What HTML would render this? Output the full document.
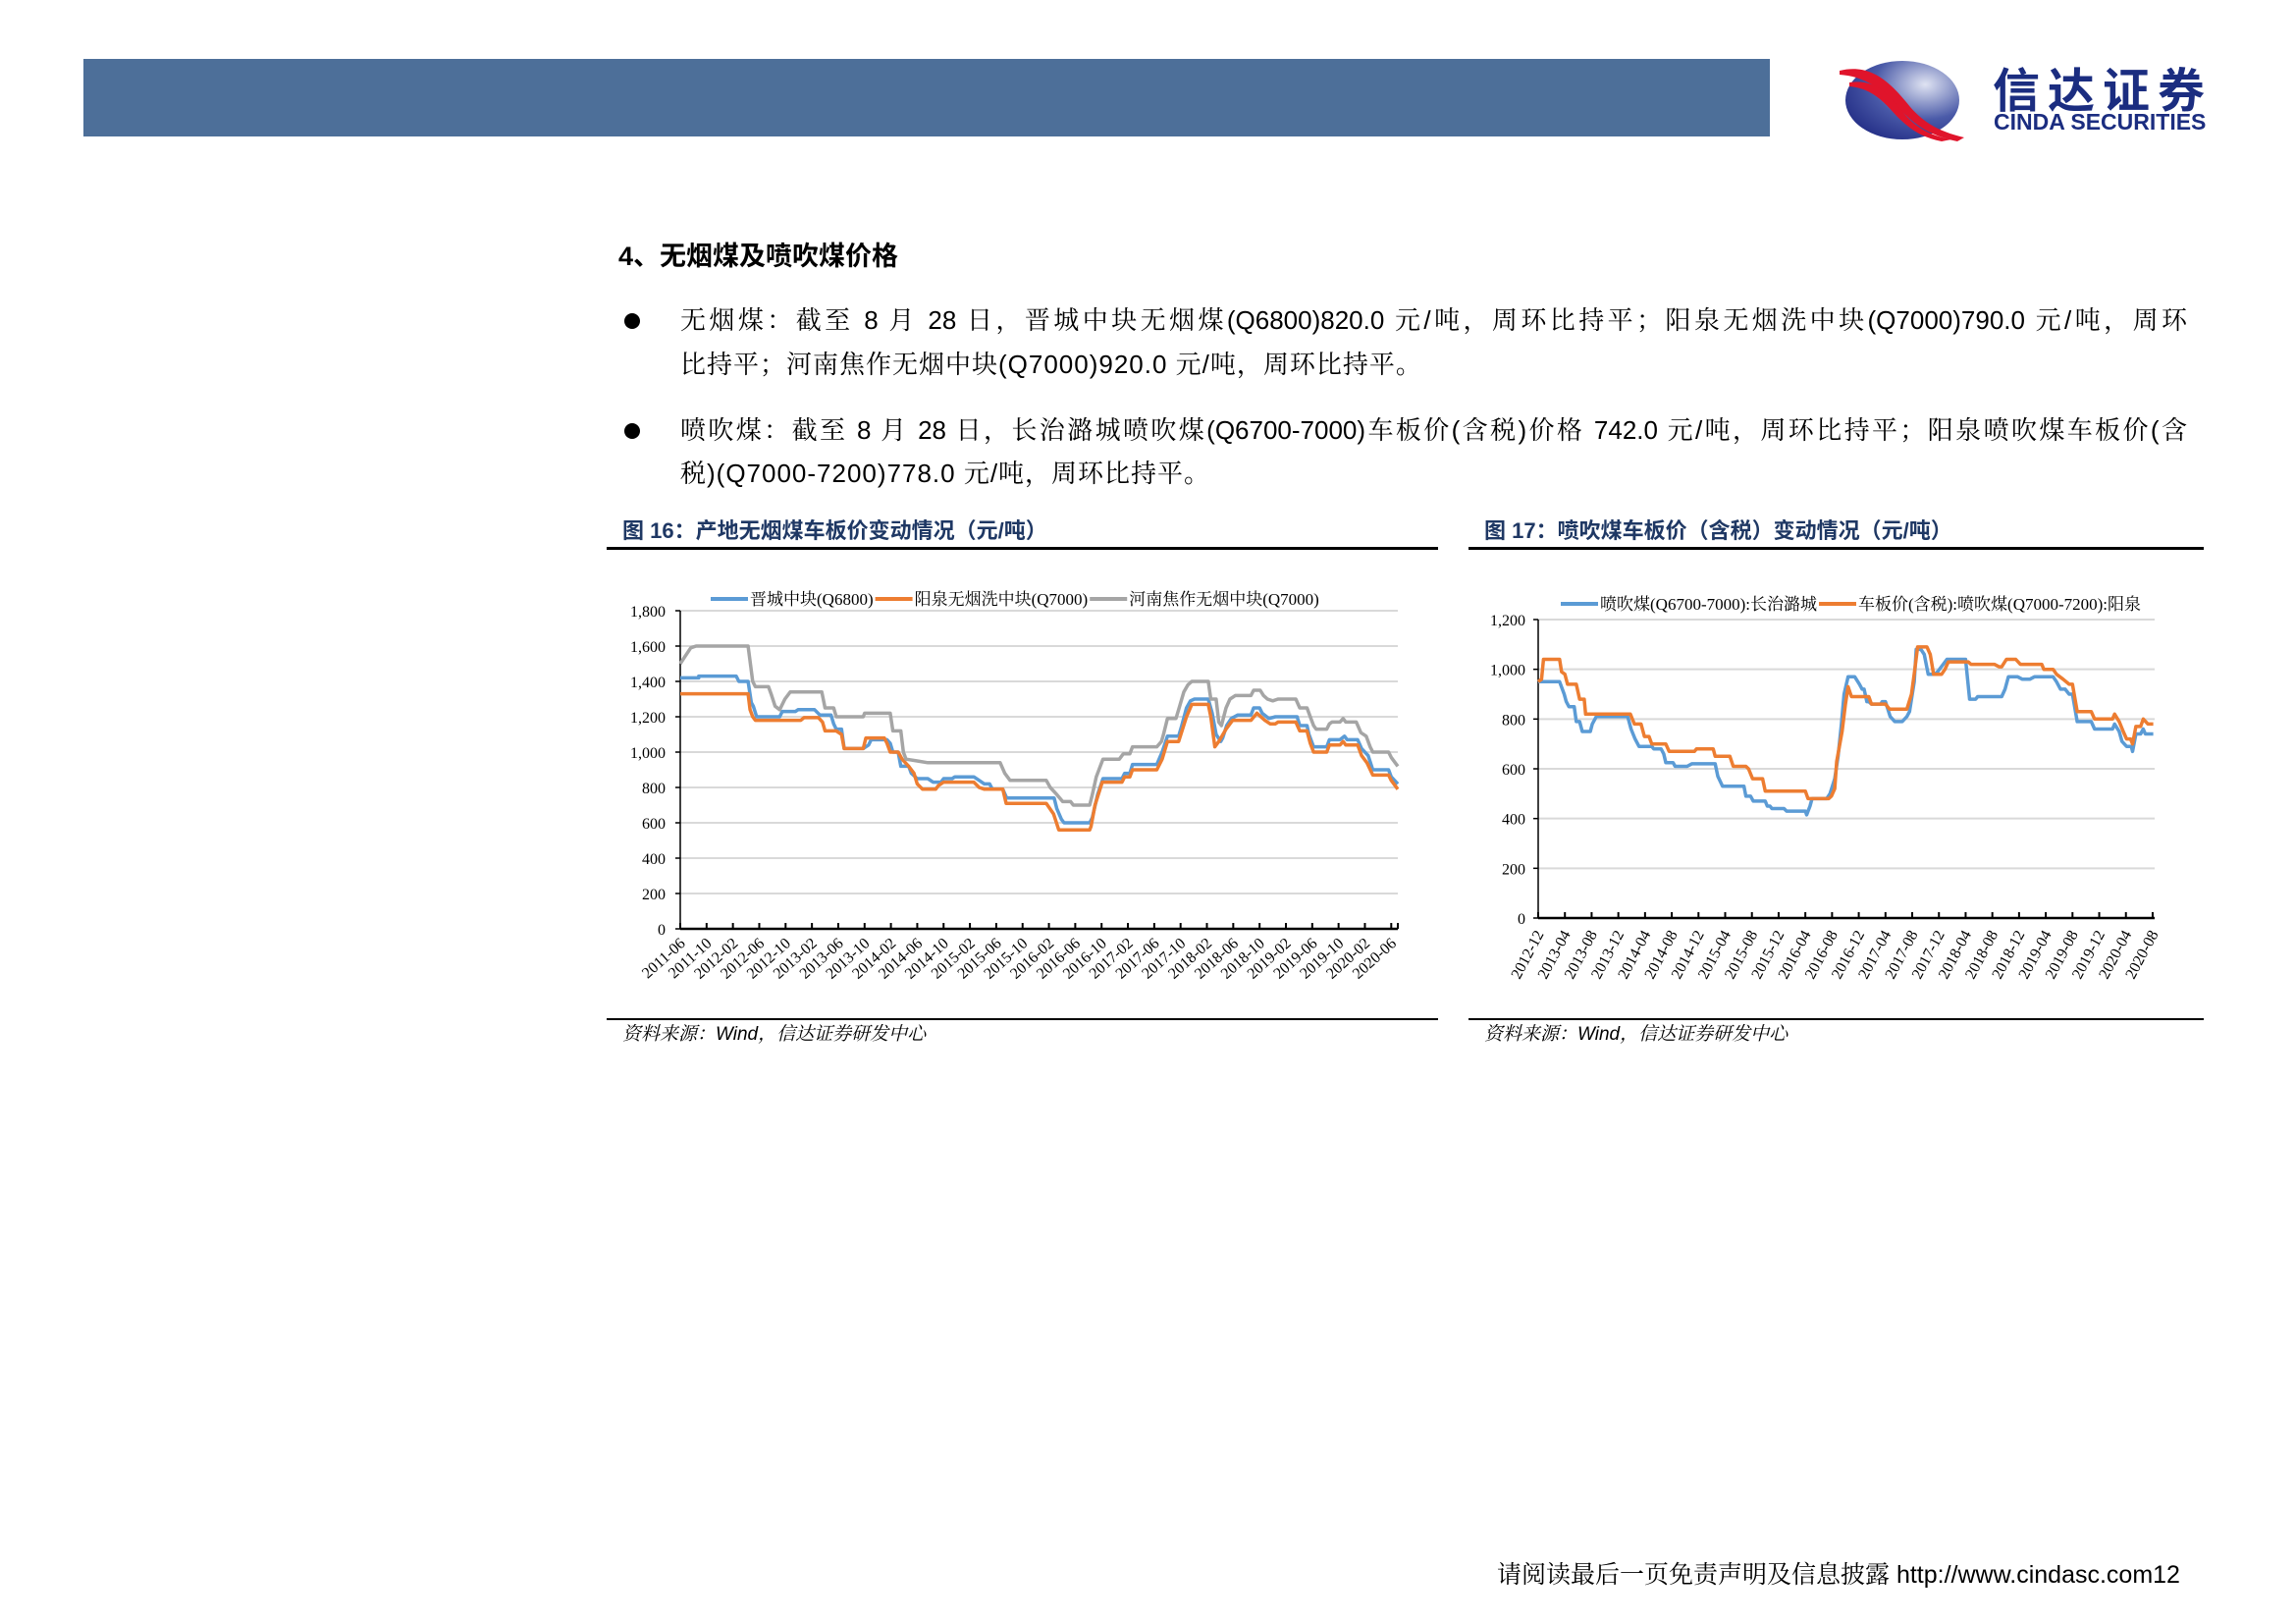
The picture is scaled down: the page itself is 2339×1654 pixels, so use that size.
<!DOCTYPE html>
<html><head><meta charset="utf-8">
<style>
html,body{margin:0;padding:0;background:#fff;}
body{width:2339px;height:1654px;position:relative;overflow:hidden;font-family:"Liberation Sans","Noto Serif CJK SC",serif;color:#000;}
.abs{position:absolute;white-space:nowrap;}
.line{position:absolute;left:693px;width:1535px;font-size:26px;line-height:32px;white-space:nowrap;}
.just{text-align:justify;text-align-last:justify;}
.bullet{position:absolute;left:636px;width:16px;height:16px;border-radius:50%;background:#000;}
.figt{position:absolute;font-size:22px;font-weight:bold;color:#1f3864;font-family:"Liberation Sans","Noto Sans CJK SC",sans-serif;}
.src{position:absolute;font-size:19px;font-style:italic;color:#000;}
</style></head>
<body>
<div style="position:absolute;left:85px;top:60px;width:1718px;height:79px;background:#4d6f99;"></div>
<svg style="position:absolute;left:1866px;top:54px" width="140" height="92" viewBox="0 0 140 92">
  <defs><radialGradient id="lg" cx="0.7" cy="0.3" r="0.9"><stop offset="0" stop-color="#dfe3f2"/><stop offset="0.5" stop-color="#4a5aa8"/><stop offset="1" stop-color="#1a237e"/></radialGradient></defs>
  <ellipse cx="72" cy="48" rx="58" ry="40" fill="url(#lg)"/>
  <path d="M8 18 C40 10,60 30,80 55 C95 72,110 80,135 86 L128 90 C100 84,86 74,70 58 C52 38,36 24,8 22Z" fill="#e0142b"/>
  <path d="M18 30 C45 26,58 42,74 62 C86 76,100 84,122 88 L112 90 C92 86,80 78,66 64 C52 48,40 36,18 34Z" fill="#e0142b"/>
</svg>
<div class="abs" style="left:2030px;top:62px;font-size:48px;font-weight:bold;color:#1b2d80;font-family:'Noto Sans CJK SC',sans-serif;line-height:52px;letter-spacing:8px;">信达证券</div>
<div class="abs" style="left:2031px;top:112px;font-size:23px;font-weight:bold;color:#1b2d80;line-height:24px;">CINDA SECURITIES</div>

<div class="abs" style="left:630px;top:239px;font-size:27px;font-weight:bold;font-family:'Liberation Sans','Noto Sans CJK SC',sans-serif;">4、无烟煤及喷吹煤价格</div>

<div class="bullet" style="top:319px"></div>
<div class="line just" style="top:310px">无烟煤：截至 8 月 28 日，晋城中块无烟煤(Q6800)820.0 元/吨，周环比持平；阳泉无烟洗中块(Q7000)790.0 元/吨，周环</div>
<div class="line" style="top:355px;letter-spacing:1px">比持平；河南焦作无烟中块(Q7000)920.0 元/吨，周环比持平。</div>
<div class="bullet" style="top:431px"></div>
<div class="line just" style="top:422px">喷吹煤：截至 8 月 28 日，长治潞城喷吹煤(Q6700-7000)车板价(含税)价格 742.0 元/吨，周环比持平；阳泉喷吹煤车板价(含</div>
<div class="line" style="top:466px;letter-spacing:1px">税)(Q7000-7200)778.0 元/吨，周环比持平。</div>

<div class="figt" style="left:634px;top:523px">图 16：产地无烟煤车板价变动情况（元/吨）</div>
<div class="figt" style="left:1512px;top:523px">图 17：喷吹煤车板价（含税）变动情况（元/吨）</div>
<div style="position:absolute;left:618px;top:557px;width:847px;height:3px;background:#000"></div>
<div style="position:absolute;left:1496px;top:557px;width:749px;height:3px;background:#000"></div>
<div style="position:absolute;left:618px;top:1037px;width:847px;height:2px;background:#000"></div>
<div style="position:absolute;left:1496px;top:1037px;width:749px;height:2px;background:#000"></div>
<div class="src" style="left:634px;top:1038px">资料来源：Wind，信达证券研发中心</div>
<div class="src" style="left:1512px;top:1038px">资料来源：Wind，信达证券研发中心</div>

<div class="abs" style="left:1525px;top:1584px;font-size:25px;">请阅读最后一页免责声明及信息披露 http://www.cindasc.com12</div>

<svg id="chart1" style="position:absolute;left:0;top:0" width="2339" height="1654"></svg>

<script>
// ---------- Chart 1 data (months since 2011-06) ----------
const c1Ticks = [0,200,400,600,800,1000,1200,1400,1600,1800];
const c1TickLabels = ["0","200","400","600","800","1,000","1,200","1,400","1,600","1,800"];
const c1XLabels = ["2011-06","2011-10","2012-02","2012-06","2012-10","2013-02","2013-06","2013-10","2014-02","2014-06","2014-10","2015-02","2015-06","2015-10","2016-02","2016-06","2016-10","2017-02","2017-06","2017-10","2018-02","2018-06","2018-10","2019-02","2019-06","2019-10","2020-02","2020-06"];
const c1Names = ["晋城中块(Q6800)","阳泉无烟洗中块(Q7000)","河南焦作无烟中块(Q7000)"];
const c1BlueT = [0,2.8,2.8,8.5,8.9,10.3,10.8,11.1,11.6,15.1,15.5,17.5,17.9,20.4,21.2,22.9,23.3,23.7,24.5,24.9,27.8,28.6,29,31.4,31.9,32.3,33.1,33.5,34.7,35.1,36,37.6,38.4,39.6,40,41.3,41.7,44.6,45.4,46.2,47,47.4,49,49.6,56.8,57.2,57.9,58.3,62.2,62.6,63.4,64.2,67.1,67.5,68.3,68.7,72.4,73.2,74,75.7,76.1,76.9,77.5,78.1,80.2,80.8,81.4,82.1,82.4,83,83.7,84.7,86.7,87.1,88,88.4,89.4,90.4,93.7,94.1,95.2,95.5,96.2,98.2,98.6,100.2,100.9,101.3,102.9,103.5,104.5,105.2,107.6,108,109];
const c1BlueV = [1420,1420,1430,1430,1400,1400,1280,1260,1200,1200,1230,1230,1240,1240,1210,1210,1160,1130,1130,1020,1020,1040,1070,1070,1050,1000,1000,920,920,880,850,850,830,830,850,850,860,860,840,820,820,790,790,740,740,680,620,600,600,630,760,850,850,880,880,930,930,1000,1090,1090,1140,1250,1290,1300,1300,1220,1100,1060,1080,1150,1190,1210,1210,1250,1250,1220,1190,1200,1200,1150,1150,1100,1030,1030,1070,1070,1090,1070,1070,1020,980,900,900,860,820];
const c1OrangeT = [0,10.3,10.6,11,11.4,18.3,18.8,21,21.6,22,23.7,24.5,24.9,27.8,28.2,31,31.4,31.9,33.1,33.7,34.7,35.5,36,36.8,38.8,39.2,40,44.6,45.4,46.2,49,49.5,55.6,56.7,57.5,62.2,62.4,63,64.1,67.1,67.5,68.3,68.7,72.4,73.2,74,75.7,76.9,77.7,80.2,80.6,81.2,81.8,82.9,83.9,86.7,87.6,88.8,89.6,90.4,90.8,93.5,94.1,95.2,95.7,96.2,98.2,98.6,100.2,100.7,101.1,102.9,103.5,104.3,105.2,107.6,108,109];
const c1OrangeV = [1330,1330,1240,1200,1180,1180,1195,1195,1170,1120,1120,1100,1020,1020,1080,1080,1050,1000,1000,960,920,880,820,790,790,810,830,830,800,790,790,710,710,650,560,560,580,700,830,830,860,860,900,900,960,1060,1060,1200,1270,1270,1200,1030,1060,1130,1180,1180,1220,1180,1160,1160,1170,1170,1120,1120,1050,1000,1000,1040,1040,1060,1040,1040,980,940,870,870,840,790];
const c1GrayT = [0,0.7,1.6,2.4,10.3,11,11.4,13.4,13.8,14.4,15.1,15.9,16.7,21.5,22,23.3,23.7,27.8,28,31.9,32.3,33.5,33.9,34.3,36,37.6,48.6,49.3,50.1,55.6,56.2,57.2,58.1,59.3,59.7,62.2,62.6,63.2,63.8,64.2,66.7,67.3,68.3,68.7,72.4,73.1,73.4,74,75.3,75.7,76.5,77.1,77.7,80.2,80.6,81.4,81.8,82.2,82.9,83.5,84.3,86.7,87.1,88.1,88.6,89.2,90,90.8,93.5,94.1,95.2,95.7,96.2,96.6,98.2,98.6,99,100.2,100.7,101.1,102.7,103.4,104.2,104.8,105.2,107.6,108,109];
const c1GrayV = [1500,1540,1590,1600,1600,1400,1370,1370,1330,1260,1240,1300,1340,1340,1250,1250,1200,1200,1220,1220,1120,1120,1000,960,950,940,940,880,840,840,800,760,720,720,700,700,760,860,920,960,960,990,990,1030,1030,1060,1100,1190,1190,1240,1340,1380,1400,1400,1300,1300,1170,1150,1250,1300,1320,1320,1350,1350,1320,1300,1290,1300,1300,1250,1250,1200,1150,1130,1130,1160,1170,1170,1190,1170,1170,1110,1090,1030,1000,1000,970,920];

// ---------- Chart 2 data (months since 2012-12) ----------
const c2Ticks = [0,200,400,600,800,1000,1200];
const c2TickLabels = ["0","200","400","600","800","1,000","1,200"];
const c2XLabels = ["2012-12","2013-04","2013-08","2013-12","2014-04","2014-08","2014-12","2015-04","2015-08","2015-12","2016-04","2016-08","2016-12","2017-04","2017-08","2017-12","2018-04","2018-08","2018-12","2019-04","2019-08","2019-12","2020-04","2020-08"];
const c2Names = ["喷吹煤(Q6700-7000):长治潞城","车板价(含税):喷吹煤(Q7000-7200):阳泉"];
const c2BlueT = [0,3.2,3.9,4.2,4.6,5.4,5.7,6.2,6.6,7.8,8.1,8.7,13.4,13.9,14.5,15.1,17,17.3,18.4,18.8,19.1,20.2,20.5,22.3,23,26.5,26.9,27.6,30.8,31.1,31.8,32.2,34,34.3,34.7,35,36.8,37.2,40,40.2,40.7,41,43.2,43.7,44.4,44.9,45.4,45.8,46.4,47.4,48.1,48.5,48.8,49.2,49.5,49.9,51.3,51.5,52,52.7,53.4,54.5,55.2,55.6,56.3,56.6,57.3,57.8,58.4,59.4,59.8,61.2,64,64.6,65.5,65.8,69.4,69.9,70.4,71.8,72.5,73.6,74.3,77.1,77.6,78.2,78.9,79.5,80,80.7,82.8,83.3,86,86.3,87,87.4,88.1,88.8,89,89.5,90.2,90.6,90.9,92.1];
const c2BlueV = [950,950,900,870,850,850,790,790,750,750,780,810,810,760,720,690,690,680,680,660,625,625,610,610,620,620,570,530,530,490,490,470,470,450,450,440,440,430,430,415,450,480,480,500,560,650,780,900,970,970,940,920,920,870,870,860,860,870,870,810,790,790,810,830,950,1080,1080,1060,980,980,990,1040,1040,880,880,890,890,920,970,970,960,960,970,970,950,920,920,900,900,790,790,760,760,780,750,710,690,690,670,740,740,760,740,740];
const c2OrangeT = [0,0.5,0.8,3.2,3.5,4,4.4,5.7,6.2,6.9,7.1,13.8,14.4,15.4,15.9,16.6,17,19.1,19.6,23.4,23.7,26.2,26.5,28.7,29.2,31.1,31.5,32.1,33.6,34,40,40.4,43.5,43.9,44.4,44.7,45.5,46,46.4,46.9,49.5,49.9,52,52.6,55.2,55.9,56.4,56.8,58.2,58.7,59.2,60.4,60.9,61.4,64.4,64.8,68.3,69,69.4,70.1,71.5,72.2,75.4,75.7,77.1,77.6,78.6,79.5,80,80.7,82.8,83.3,86,86.3,87,87.6,88.1,88.7,89,89.5,90.2,90.6,91.3,92.1];
const c2OrangeV = [950,960,1040,1040,990,980,940,940,880,880,820,820,780,780,730,730,700,700,670,670,680,680,650,650,610,610,600,560,560,510,510,480,480,490,520,630,750,860,930,890,890,860,860,840,840,900,1000,1090,1090,1060,980,980,1000,1030,1030,1020,1020,1010,1010,1040,1040,1020,1020,1000,1000,980,960,940,940,830,830,800,800,820,790,750,720,720,700,770,770,800,780,780];

const NS = "http://www.w3.org/2000/svg";
const svg = document.getElementById("chart1");
function mk(tag, attrs, parent){
  const e = document.createElementNS(NS, tag);
  for (const k in attrs) e.setAttribute(k, attrs[k]);
  (parent||svg).appendChild(e);
  return e;
}
const SERIF = "'Liberation Serif','Noto Serif CJK SC',serif";

function drawChart(cfg){
  const g = mk("g", {});
  
  
  const xS = t => cfg.x0 + t / cfg.tMax * (cfg.x1 - cfg.x0);
  const yS = v => cfg.yBot - v / cfg.vMax * (cfg.yBot - cfg.yTop);
  cfg.ticks.forEach((v, i) => {
    if (v > 0) {
      const gl = mk("line", {x1: cfg.x0, x2: cfg.x1, y1: yS(v), y2: yS(v), stroke: "#d9d9d9", "stroke-width": 2}, g);
      
      
    }
    const tl = mk("text", {x: cfg.labRight, y: yS(v) + 6, "text-anchor": "end", "font-size": 16, "font-family": SERIF, fill: "#000"}, g);
    tl.textContent = cfg.tickLabels[i];
    
    
  });
  const ya = mk("line", {x1: cfg.x0, x2: cfg.x0, y1: cfg.yTop, y2: cfg.yBot, stroke: "#000", "stroke-width": 1.5}, g);
  
  
  cfg.ticks.forEach(v => { mk("line", {x1: cfg.x0 - 5, x2: cfg.x0, y1: yS(v), y2: yS(v), stroke: "#000", "stroke-width": 1.5}, g); });
  const xa = mk("line", {x1: cfg.x0, x2: cfg.x1, y1: cfg.yBot, y2: cfg.yBot, stroke: "#000", "stroke-width": 2.5}, g);
  
  
  cfg.xLabels.forEach((lab, i) => {
    const x = xS(i * cfg.xStep);
    mk("line", {x1: x, x2: x, y1: cfg.yBot - 6, y2: cfg.yBot, stroke: "#000", "stroke-width": 2}, g);
    const ax = x + 6, ay = cfg.yBot + 16;
    const xl = mk("text", {x: ax, y: ay, "text-anchor": "end", "font-size": 16, "font-family": SERIF, fill: "#000", transform: `rotate(${cfg.rot} ${ax} ${ay})`}, g);
    xl.textContent = lab;
    
    
  });
  if (cfg.endTick) mk("line", {x1: cfg.x1, x2: cfg.x1, y1: cfg.yBot - 6, y2: cfg.yBot, stroke: "#000", "stroke-width": 2}, g);
  cfg.series.forEach(s => {
    const pts = s.t.map((t, i) => xS(t).toFixed(1) + "," + yS(s.v[i]).toFixed(1)).join(" ");
    const pl = mk("polyline", {points: pts, fill: "none", stroke: s.color, "stroke-width": 3.5, "stroke-linejoin": "round"}, g);
    
    
  });
  let lx = cfg.legX;
  cfg.series.forEach(s => {
    const ll = mk("line", {x1: lx, x2: lx + 38, y1: cfg.legY, y2: cfg.legY, stroke: s.color, "stroke-width": 4}, g);
    
    
    const lt = mk("text", {x: lx + 40, y: cfg.legY + 6, "font-size": cfg.legFont, "font-family": SERIF, fill: "#000"}, g);
    lt.textContent = s.label;
    
    
    lx += 40 + lt.getComputedTextLength() + 2;
  });
}

drawChart({
  name: "chart-anthracite-plot", x0: 693, x1: 1424, yTop: 622, yBot: 946, tMax: 109, vMax: 1800,
  ticks: c1Ticks, tickLabels: c1TickLabels, xLabels: c1XLabels, xStep: 4, rot: -42, endTick: true,
  labRight: 678, legX: 724, legY: 610, legFont: 17,
  series: [
    {t: c1BlueT, v: c1BlueV, color: "#5b9bd5", label: c1Names[0], dname: "series-jincheng"},
    {t: c1OrangeT, v: c1OrangeV, color: "#ed7d31", label: c1Names[1], dname: "series-yangquan"},
    {t: c1GrayT, v: c1GrayV, color: "#a5a5a5", label: c1Names[2], dname: "series-henan-jiaozuo"}
  ]
});
drawChart({
  name: "chart-pci-plot", x0: 1567, x1: 2195, yTop: 631, yBot: 935, tMax: 92.3, vMax: 1200,
  ticks: c2Ticks, tickLabels: c2TickLabels, xLabels: c2XLabels, xStep: 4, rot: -62, endTick: false,
  labRight: 1554, legX: 1590, legY: 615, legFont: 17,
  series: [
    {t: c2BlueT, v: c2BlueV, color: "#5b9bd5", label: c2Names[0], dname: "series-changzhi-lucheng"},
    {t: c2OrangeT, v: c2OrangeV, color: "#ed7d31", label: c2Names[1], dname: "series-yangquan-pci"}
  ]
});
</script>
</body></html>
